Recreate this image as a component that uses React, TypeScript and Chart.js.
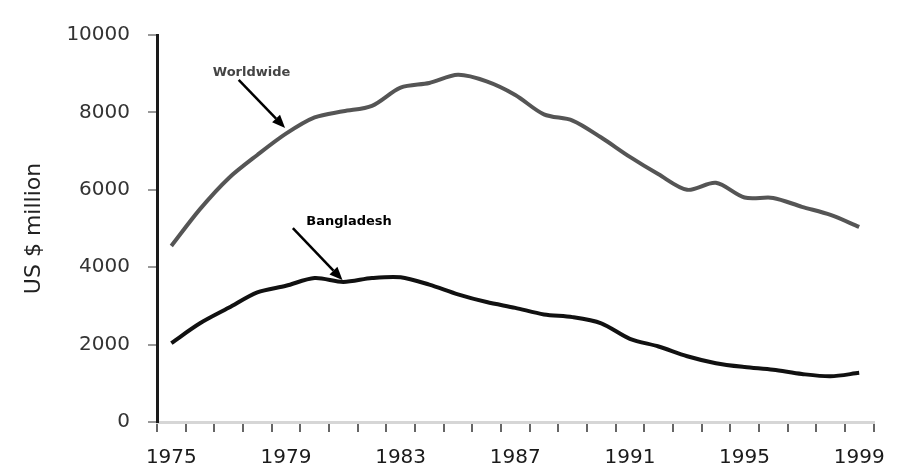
import React, { useEffect, useRef } from "react";
import { Chart, registerables } from "chart.js";

Chart.register(...registerables);

const years: string[] = [
  "1975", "1976", "1977", "1978", "1979", "1980", "1981", "1982", "1983", "1984",
  "1985", "1986", "1987", "1988", "1989", "1990", "1991", "1992", "1993", "1994",
  "1995", "1996", "1997", "1998", "1999",
];

const worldwide: number[] = [
  4550, 5500, 6300, 6900, 7450, 7870, 8030, 8170, 8640, 8760,
  8970, 8800, 8450, 7950, 7790, 7350, 6850, 6400, 6000, 6180,
  5800, 5790, 5560, 5350, 5040,
];

const bangladesh: number[] = [
  2040, 2550, 2950, 3350, 3520, 3720, 3620, 3720, 3740, 3550,
  3300, 3100, 2950, 2780, 2710, 2550, 2150, 1950, 1700, 1520,
  1420, 1350, 1240, 1180, 1270,
];

const yTicks: number[] = [0, 2000, 4000, 6000, 8000, 10000];
const yTitle = "US $ million";

// annotation labels: [text, yearIndex, value]
const annotationTexts: string[] = ["Worldwide", "Bangladesh"];
const annotationAt: number[][] = [
  [2.8, 9040],
  [6.2, 5170],
];
// arrows: [fromIndex, fromValue, toIndex, toValue]
const annotationArrows: number[][] = [
  [2.35, 8840, 3.97, 7600],
  [4.24, 5010, 5.97, 3670],
];
const annotationColors: string[] = ["#444444", "#000000"];

const FONT = "'DejaVu Sans', 'Liberation Sans', Arial, sans-serif";

const annotationPlugin = {
  id: "arrowLabels",
  afterDatasetsDraw(chart: any) {
    const { ctx, scales } = chart;
    const xs = scales.x;
    const ys = scales.y;
    ctx.save();
    annotationTexts.forEach((t, i) => {
      const [xi, yv] = annotationAt[i];
      ctx.font = `bold 13px ${FONT}`;
      ctx.fillStyle = annotationColors[i];
      ctx.textAlign = "center";
      ctx.textBaseline = "middle";
      ctx.fillText(t, xs.getPixelForValue(xi), ys.getPixelForValue(yv));

      const [fx, fv, tx, tv] = annotationArrows[i];
      const x1 = xs.getPixelForValue(fx);
      const y1 = ys.getPixelForValue(fv);
      const x2 = xs.getPixelForValue(tx);
      const y2 = ys.getPixelForValue(tv);
      const ang = Math.atan2(y2 - y1, x2 - x1);
      const headLen = 13;
      const headW = 5.5;
      const bx = x2 - headLen * Math.cos(ang);
      const by = y2 - headLen * Math.sin(ang);
      ctx.strokeStyle = "#000";
      ctx.lineWidth = 2.5;
      ctx.beginPath();
      ctx.moveTo(x1, y1);
      ctx.lineTo(bx, by);
      ctx.stroke();
      ctx.fillStyle = "#000";
      ctx.beginPath();
      ctx.moveTo(x2, y2);
      ctx.lineTo(bx + headW * Math.sin(ang), by - headW * Math.cos(ang));
      ctx.lineTo(bx - headW * Math.sin(ang), by + headW * Math.cos(ang));
      ctx.closePath();
      ctx.fill();
    });
    ctx.restore();
  },
};

export default function App() {
  const ref = useRef<HTMLCanvasElement | null>(null);

  useEffect(() => {
    if (!ref.current) return;
    const chart = new Chart(ref.current, {
      type: "line",
      data: {
        labels: years,
        datasets: [
          {
            label: annotationTexts[0],
            data: worldwide,
            borderColor: "#555555",
            borderWidth: 4,
            pointRadius: 0,
            tension: 0.3,
            fill: false,
          },
          {
            label: annotationTexts[1],
            data: bangladesh,
            borderColor: "#111111",
            borderWidth: 4,
            pointRadius: 0,
            tension: 0.3,
            fill: false,
          },
        ],
      },
      options: {
        animation: false,
        responsive: false,
        devicePixelRatio: 1,
        layout: { padding: { left: 0, right: 18, top: 35, bottom: 0 } },
        plugins: {
          legend: { display: false },
          tooltip: { enabled: false },
        },
        scales: {
          x: {
            type: "category",
            offset: true,
            grid: {
              offset: true,
              drawOnChartArea: false,
              drawTicks: true,
              tickLength: 10,
              color: "#666666",
              lineWidth: 2,
            },
            border: { display: true, color: "#d6d6d6", width: 3 },
            ticks: {
              autoSkip: false,
              maxRotation: 0,
              padding: 14,
              color: "#1a1a1a",
              font: { family: FONT, size: 20 },
              callback: (_v: any, idx: number) => (idx % 4 === 0 ? years[idx] : ""),
            },
            afterFit: (scale: any) => {
              scale.height = 49;
            },
          },
          y: {
            min: 0,
            max: 10000,
            afterBuildTicks: (scale: any) => {
              scale.ticks = yTicks.map((v) => ({ value: v }));
            },
            grid: {
              drawOnChartArea: false,
              drawTicks: true,
              tickLength: 9,
              color: "#999999",
              lineWidth: 2,
            },
            border: { display: true, color: "#1a1a1a", width: 3 },
            ticks: {
              padding: 18,
              color: "#333333",
              font: { family: FONT, size: 20 },
              callback: (v: any) => String(v),
            },
            title: {
              display: true,
              text: yTitle,
              color: "#222222",
              font: { family: FONT, size: 22 },
              padding: { top: 21, bottom: 0 },
            },
            afterFit: (scale: any) => {
              scale.width = 157;
            },
          },
        },
      },
      plugins: [annotationPlugin],
    });
    return () => chart.destroy();
  }, []);

  return (
    <div
      style={{
        position: "fixed",
        left: 0,
        top: 0,
        width: 899,
        height: 471,
        background: "#ffffff",
      }}
    >
      <canvas ref={ref} width={899} height={471} style={{ width: 899, height: 471 }} />
    </div>
  );
}
